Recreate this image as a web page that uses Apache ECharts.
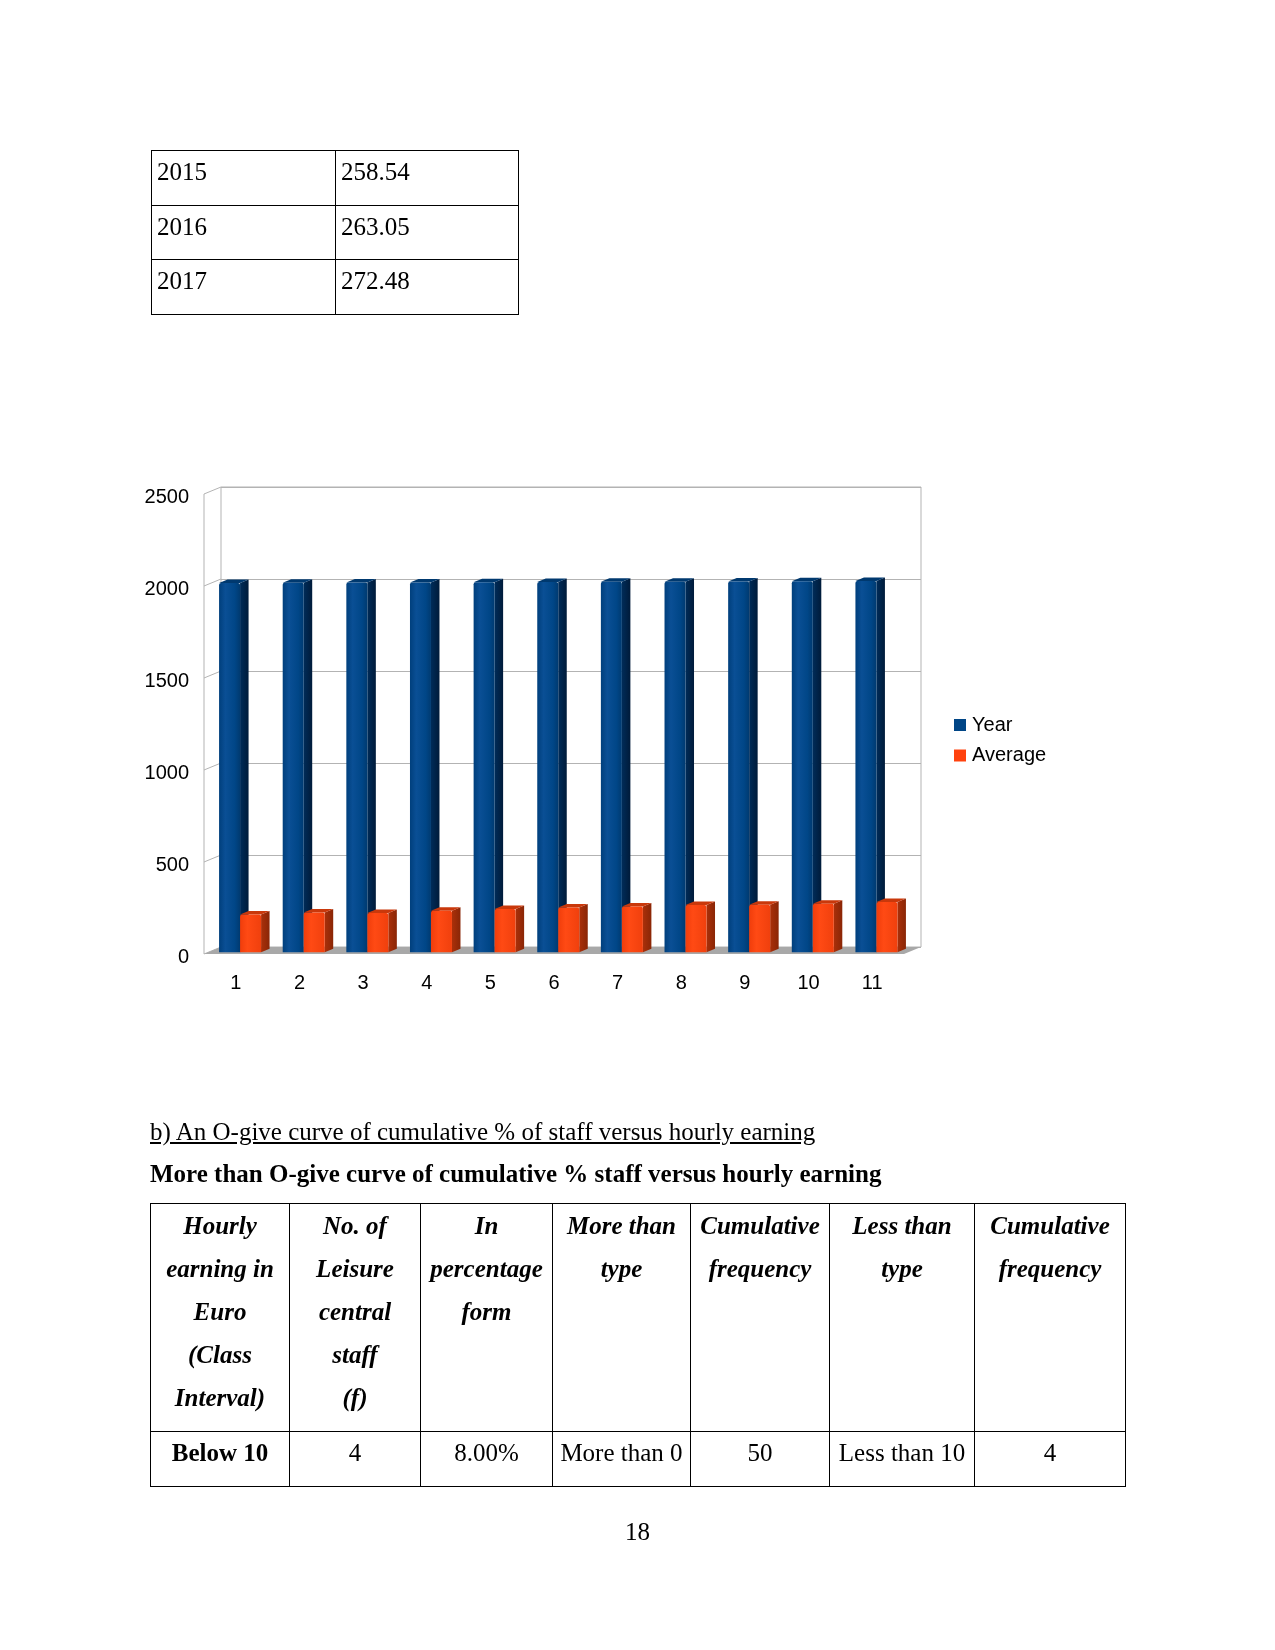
<!DOCTYPE html>
<html>
<head>
<meta charset="utf-8">
<script src="https://cdn.jsdelivr.net/npm/echarts@6/dist/echarts.min.js"></script>
<style>
  html, body { margin: 0; padding: 0; background: #fff; }
  #page { position: relative; width: 1275px; height: 1650px; overflow: hidden; background: #fff; }
  #chart { position: absolute; left: 0; top: 0; width: 1275px; height: 1650px; z-index: 1; }
  .txt { position: absolute; z-index: 2; font-family: "Liberation Serif", "Times New Roman", serif; font-size: 25px; color: #000; white-space: nowrap; }
  table { border-collapse: collapse; table-layout: fixed; }
  td { border: 1px solid #000; padding: 0; vertical-align: top; font-family: "Liberation Serif", "Times New Roman", serif; font-size: 25px; color: #000; white-space: nowrap; }
  #t1 td { line-height: 41px; padding-left: 5px; height: 53.5px; }
  #t2 td { text-align: center; line-height: 43px; }
  #t2 tr.h td { font-weight: bold; font-style: italic; height: 226.5px; }
  #t2 tr.d td { line-height: 42px; height: 54.5px; }
</style>
</head>
<body>
<div id="page">
  <div id="chart"></div>

  <table id="t1" class="txt" style="left:151px; top:150px;">
    <colgroup><col style="width:184px"><col style="width:183px"></colgroup>
    <tr><td>2015</td><td>258.54</td></tr>
    <tr><td>2016</td><td>263.05</td></tr>
    <tr><td>2017</td><td>272.48</td></tr>
  </table>

  <div class="txt" style="left:150px; top:1117px; line-height:30px; text-decoration:underline;">b) An O-give curve of cumulative % of staff versus hourly earning</div>
  <div class="txt" style="left:150px; top:1159px; line-height:30px; font-weight:bold;">More than O-give curve of cumulative % staff versus hourly earning</div>

  <table id="t2" class="txt" style="left:150px; top:1203px;">
    <colgroup>
      <col style="width:139px"><col style="width:131px"><col style="width:132px"><col style="width:138px"><col style="width:139px"><col style="width:145px"><col style="width:151px">
    </colgroup>
    <tr class="h">
      <td>Hourly<br>earning in<br>Euro<br>(Class<br>Interval)</td>
      <td>No. of<br>Leisure<br>central<br>staff<br>(f)</td>
      <td>In<br>percentage<br>form</td>
      <td>More than<br>type</td>
      <td>Cumulative<br>frequency</td>
      <td>Less than<br>type</td>
      <td>Cumulative<br>frequency</td>
    </tr>
    <tr class="d">
      <td style="font-weight:bold;">Below 10</td>
      <td>4</td>
      <td>8.00%</td>
      <td>More than 0</td>
      <td>50</td>
      <td>Less than 10</td>
      <td>4</td>
    </tr>
  </table>

  <div class="txt" style="left:0; width:1275px; text-align:center; top:1517px; line-height:30px;">18</div>
</div>

<script>
// ---- data ----
const categories = ['1', '2', '3', '4', '5', '6', '7', '8', '9', '10', '11'];
const yearValues = [2007, 2008, 2009, 2010, 2011, 2012, 2013, 2014, 2015, 2016, 2017];
const averageValues = [205.7, 216.5, 212.7, 225.2, 234.5, 243.7, 249.1, 256.2, 258.54, 263.05, 272.48];
const yTicks = [0, 500, 1000, 1500, 2000, 2500];
const seriesNames = ['Year', 'Average'];

// ---- 3D look (pixel offsets of the perspective) ----
const WALL_DX = -17, WALL_DY = 7;          // back wall -> front edge
const FACE_DX = -12.75, FACE_DY = 5.25;    // back wall -> bar front face
const SIDE_DX = 8.5, SIDE_DY = -3.5;       // bar depth
const GRID_COLOR = '#b3b3b3';

const palettes = {
  blue: {
    front: { type: 'linear', x: 0, y: 0, x2: 1, y2: 0, colorStops: [
      { offset: 0, color: '#003f7c' }, { offset: 0.3, color: '#0a4f95' },
      { offset: 0.75, color: '#004687' }, { offset: 1, color: '#003a70' } ] },
    side: { type: 'linear', x: 0, y: 0, x2: 1, y2: 0, colorStops: [
      { offset: 0, color: '#002c59' }, { offset: 1, color: '#001b3a' } ] },
    top: '#00396f'
  },
  orange: {
    front: { type: 'linear', x: 0, y: 0, x2: 1, y2: 0, colorStops: [
      { offset: 0, color: '#f03d0b' }, { offset: 0.35, color: '#ff4a14' },
      { offset: 1, color: '#f0400d' } ] },
    side: { type: 'linear', x: 0, y: 0, x2: 1, y2: 0, colorStops: [
      { offset: 0, color: '#aa300a' }, { offset: 1, color: '#8a2606' } ] },
    top: '#c9380b'
  }
};

function barRenderer(leftSide, pal) {
  return function (params, api) {
    const i = api.value(0), v = api.value(1);
    const top = api.coord([i, v]);
    const base = api.coord([i, 0]);
    const band = api.size([1, 0])[0];
    const w = band * 0.33;
    const x0 = top[0] + FACE_DX + (leftSide ? -w : 0);
    const yT = top[1] + FACE_DY, yB = base[1] + FACE_DY;
    return {
      type: 'group',
      children: [
        { type: 'polygon', shape: { points: [[x0 + w, yT], [x0 + w + SIDE_DX, yT + SIDE_DY], [x0 + w + SIDE_DX, yB + SIDE_DY], [x0 + w, yB]] },
          style: { fill: pal.side } },
        { type: 'polygon', shape: { points: [[x0, yT], [x0 + SIDE_DX, yT + SIDE_DY], [x0 + w + SIDE_DX, yT + SIDE_DY], [x0 + w, yT]] },
          style: { fill: pal.top } },
        { type: 'rect', shape: { x: x0, y: yT, width: w, height: yB - yT, r: [2, 2, 0, 0] },
          style: { fill: pal.front } }
      ]
    };
  };
}

function wallRenderer(params, api) {
  const v = api.value(1);
  const cs = params.coordSys;
  const y = api.coord([0, v])[1];
  const children = [
    { type: 'line', shape: { x1: cs.x, y1: y, x2: cs.x + WALL_DX, y2: y + WALL_DY },
      style: { stroke: GRID_COLOR, lineWidth: 1 } }
  ];
  if (v === 0) {
    children.push({ type: 'line', shape: { x1: cs.x + WALL_DX, y1: cs.y + WALL_DY, x2: cs.x + WALL_DX, y2: y + WALL_DY },
      style: { stroke: GRID_COLOR, lineWidth: 1 } });
    children.push({ type: 'polygon', shape: { points: [
        [cs.x, y], [cs.x + cs.width, y], [cs.x + cs.width + WALL_DX, y + WALL_DY], [cs.x + WALL_DX, y + WALL_DY]] },
      style: { fill: '#a8a8a8' } });
  }
  return { type: 'group', children };
}

const chart = echarts.init(document.getElementById('chart'), null, { renderer: 'canvas' });
chart.setOption({
  animation: false,
  backgroundColor: 'transparent',
  textStyle: { fontFamily: 'Liberation Sans' },
  grid: { left: 221, right: 354, top: 487, bottom: 703, show: true, borderColor: GRID_COLOR, borderWidth: 1, backgroundColor: 'transparent' },
  legend: {
    data: seriesNames, orient: 'vertical', left: 954, top: 715, padding: 0,
    itemWidth: 12, itemHeight: 12, itemGap: 10.5, icon: 'rect',
    textStyle: { fontSize: 20, fontFamily: 'Liberation Sans', color: '#000', padding: [0, 0, 0, 1] }
  },
  xAxis: {
    type: 'category', data: categories,
    axisLine: { show: false }, axisTick: { show: false },
    axisLabel: { fontSize: 20, color: '#000', fontFamily: 'Liberation Sans', margin: 26, padding: [0, 34, 0, 0] }
  },
  yAxis: {
    type: 'value', min: 0, max: 2500, interval: 500,
    axisLine: { show: false }, axisTick: { show: false },
    splitLine: { lineStyle: { color: GRID_COLOR, width: 1 } },
    axisLabel: { fontSize: 20, color: '#000', fontFamily: 'Liberation Sans', margin: 32,
      verticalAlign: 'top', lineHeight: 20, formatter: function (v) { return String(v); } }
  },
  series: [
    { name: 'wall', type: 'custom', z: 1, silent: true, renderItem: wallRenderer,
      data: yTicks.map(v => [0, v]), encode: { x: 0, y: 1 } },
    { name: seriesNames[0], type: 'custom', z: 2, renderItem: barRenderer(true, palettes.blue),
      itemStyle: { color: '#004586' },
      data: yearValues.map((v, i) => [i, v]), encode: { x: 0, y: 1 } },
    { name: seriesNames[1], type: 'custom', z: 3, renderItem: barRenderer(false, palettes.orange),
      itemStyle: { color: '#ff420e' },
      data: averageValues.map((v, i) => [i, v]), encode: { x: 0, y: 1 } }
  ]
});
</script>
</body>
</html>
